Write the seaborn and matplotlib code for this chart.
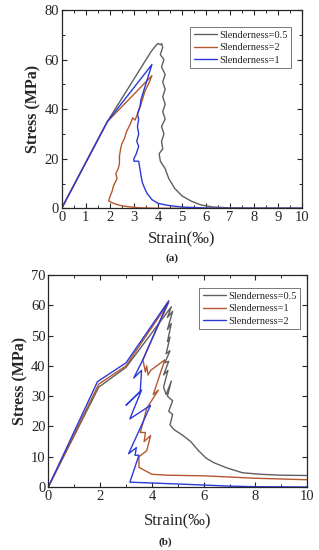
import numpy as np
import pandas as pd
import seaborn as sns
import matplotlib.pyplot as plt
from matplotlib.ticker import MultipleLocator

# ---- panel (a) data: strain (per mille), stress (MPa) ----
a_s05_x = [0, 1.9, 3.7, 3.9, 4.0, 4.1, 4.15, 4.2, 4.1, 4.25, 4.15, 4.3, 4.2, 4.3, 4.2, 4.3, 4.2, 4.3,
           4.15, 4.25, 4.15, 4.2, 4.05, 4.1, 4.3, 4.45, 4.7, 5.0, 5.4, 5.8, 6.3, 7.0, 8.0, 10.0]
a_s05_y = [0, 35, 63, 65.5, 66.5, 66, 66.5, 65, 62, 60, 57, 54, 51, 48, 45, 42, 39, 36,
           33, 30, 27, 24, 22, 19, 16, 12, 8, 5, 2.8, 1.3, 0.5, 0.15, 0, 0]
a_s2_x = [0, 1.9, 3.75, 3.6, 3.45, 3.3, 3.15, 3.05, 2.95, 2.85, 2.7, 2.6, 2.5, 2.45, 2.4, 2.4, 2.35,
          2.25, 2.3, 2.15, 2.1, 2.0, 1.95, 2.1, 2.3, 2.5, 2.8, 3.2, 4.0, 10.0]
a_s2_y = [0, 35, 53.5, 50, 47, 42, 38, 35.6, 36.5, 34, 31, 28, 26, 24, 21, 18, 16,
          14, 12, 9, 7, 4.5, 3, 2.2, 1.5, 1.0, 0.6, 0.2, 0, 0]
a_s1_x = [0, 1.9, 3.75, 3.3, 3.25, 3.15, 3.2, 3.15, 3.2, 3.12, 3.2, 3.1, 3.0, 3.0, 3.2, 3.25, 3.3,
          3.35, 3.45, 3.55, 3.75, 4.0, 4.4, 5.0, 6.0, 7.0, 10.0]
a_s1_y = [0, 35, 58, 44, 41, 38, 36, 33, 30, 27, 25, 22, 20, 19, 19, 16, 13,
          10.5, 8, 6, 3.5, 2, 1.2, 0.5, 0.1, 0, 0]

# ---- panel (b) data ----
b_s05_x = [0, 1.95, 3.0, 4.75, 4.6, 4.8, 4.6, 4.75, 4.6, 4.7, 4.55, 4.7, 4.5, 4.65, 4.45, 4.62, 4.45,
           4.55, 4.75, 4.6, 4.8, 4.65, 4.8, 4.7, 4.85, 5.2, 5.5, 5.8, 6.1, 6.4, 6.9, 7.5, 8.2, 9.0, 10.0]
b_s05_y = [0, 33, 39.5, 59.5, 56, 58, 52, 54, 48, 49.5, 44, 45, 41, 41.5, 37, 38.5, 33,
           30.5, 35, 30, 28.5, 25, 24, 20.5, 19, 17, 15, 12, 9.5, 8, 6.3, 4.7, 4.2, 3.9, 3.8]
b_s1_x = [0, 1.95, 3.0, 4.65, 3.65, 3.75, 3.8, 3.85, 3.95, 4.5, 4.05, 4.25, 3.8, 3.65, 3.55, 3.75,
          3.7, 3.95, 3.8, 3.5, 3.5, 4.0, 4.6, 6.0, 8.0, 10.0]
b_s1_y = [0, 34, 40, 61, 42, 38, 40, 37, 38.5, 42, 30.5, 32, 26, 21, 18, 18,
          15, 17, 12, 10, 6.5, 4.2, 3.9, 3.7, 2.9, 2.4]
b_s2_x = [0, 1.9, 3.0, 4.65, 3.65, 3.3, 3.6, 3.55, 3.0, 3.6, 3.15, 3.95, 3.1, 3.4, 3.35, 3.5,
          3.15, 5.0, 7.0, 8.0, 10.0]
b_s2_y = [0, 34.8, 41, 61.5, 42, 36, 38.5, 31.5, 27, 32, 22.5, 27, 11, 13, 10.5, 10.5,
          1.6, 1.0, 0.3, 0.1, 0.0]

grey = '#5f5f5f'
brown = '#b4582e'
blue = '#2b3ad6'

sns.set_style('ticks')
plt.rcParams['font.family'] = ['Liberation Serif', 'DejaVu Serif']

fig = plt.figure(figsize=(3.19, 5.5), dpi=100)
ax1 = fig.add_axes([0.1934, 0.6213, 0.7542, 0.3605])
ax2 = fig.add_axes([0.1514, 0.1145, 0.8119, 0.3855])


def draw(ax, series):
    for x, y, lab, col in series:
        df = pd.DataFrame({'strain': x, 'stress': y})
        sns.lineplot(data=df, x='strain', y='stress', sort=False, estimator=None,
                     color=col, lw=1.0, label=lab, ax=ax)


draw(ax1, [(a_s05_x, a_s05_y, 'Slenderness=0.5', grey),
           (a_s2_x, a_s2_y, 'Slenderness=2', brown),
           (a_s1_x, a_s1_y, 'Slenderness=1', blue)])
draw(ax2, [(b_s05_x, b_s05_y, 'Slenderness=0.5', grey),
           (b_s1_x, b_s1_y, 'Slenderness=1', brown),
           (b_s2_x, b_s2_y, 'Slenderness=2', blue)])

ax1.set_xlim(0, 10)
ax1.set_ylim(0, 80)
ax1.xaxis.set_major_locator(MultipleLocator(1))
ax1.xaxis.set_minor_locator(MultipleLocator(0.5))
ax1.yaxis.set_major_locator(MultipleLocator(20))
ax1.yaxis.set_minor_locator(MultipleLocator(10))

ax2.set_xlim(0, 10)
ax2.set_ylim(0, 70)
ax2.xaxis.set_major_locator(MultipleLocator(2))
ax2.xaxis.set_minor_locator(MultipleLocator(1))
ax2.yaxis.set_major_locator(MultipleLocator(10))

for ax, anchor in [(ax1, (0.953, 0.914)), (ax2, (0.972, 0.939))]:
    ax.tick_params(which='both', direction='in', top=True, right=True, labelsize=10.5, pad=2)
    ax.tick_params(which='major', length=3.5, width=0.8)
    ax.tick_params(which='minor', length=2, width=0.7)
    for s in ax.spines.values():
        s.set_linewidth(0.9)
    ax.set_xlabel('Strain(‰)', fontsize=12)
    ax.set_ylabel('Stress (MPa)', fontsize=11.5, fontweight='bold', labelpad=2)
    leg = ax.legend(loc='upper right', bbox_to_anchor=anchor, fontsize=7.5, frameon=True,
                    fancybox=False, edgecolor='#555555', handlelength=2.2, borderpad=0.35,
                    labelspacing=0.3, handletextpad=0.2, borderaxespad=0)
    leg.get_frame().set_linewidth(0.7)

ax1.xaxis.set_label_coords(0.5, -0.115)
ax2.xaxis.set_label_coords(0.5, -0.125)

fig.text(0.538, 0.531, '(a)', ha='center', va='center', fontsize=8, fontweight='bold')
fig.text(0.517, 0.0145, '(b)', ha='center', va='center', fontsize=8, fontweight='bold')

fig.savefig('out.png', dpi=100)
